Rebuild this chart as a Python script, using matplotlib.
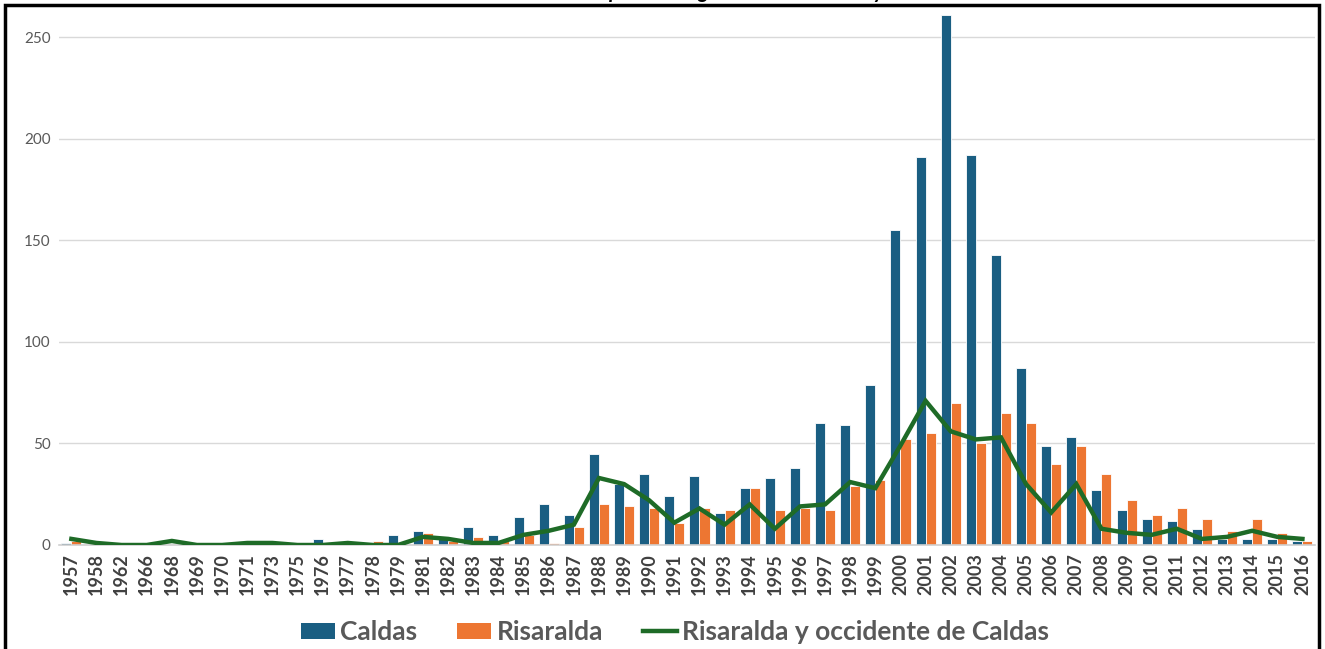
import matplotlib
matplotlib.use("agg")
from matplotlib import pyplot as plt
from matplotlib.patches import Rectangle, Patch
from matplotlib.lines import Line2D
import numpy as np

years = ['1957', '1958', '1962', '1966', '1968', '1969', '1970', '1971', '1973', '1975',
         '1976', '1977', '1978', '1979'] + [str(y) for y in range(1981, 2017)]

caldas = [1, 0, 0, 0, 0, 0, 0, 0, 0, 0,
          3, 0, 0, 5, 7, 3, 9, 5, 14, 20,
          15, 45, 30, 35, 24, 34, 16, 28, 33, 38,
          60, 59, 79, 155, 191, 261, 192, 143, 87, 49,
          53, 27, 17, 13, 12, 8, 3, 3, 3, 2]
risaralda = [2, 0, 0, 0, 0, 0, 0, 0, 0, 0,
             0, 0, 2, 0, 6, 2, 4, 2, 5, 1,
             9, 20, 19, 18, 11, 18, 17, 28, 17, 18,
             17, 29, 32, 52, 55, 70, 50, 65, 60, 40,
             49, 35, 22, 15, 18, 13, 7, 13, 6, 2]
risaralda_occ = [3, 1, 0, 0, 2, 0, 0, 1, 1, 0,
                 0, 1, 0, 0, 4, 3, 1, 1, 5, 7,
                 10, 33, 30, 22, 11, 18, 10, 20, 8, 19,
                 20, 31, 28, 49, 71, 56, 52, 53, 30, 16,
                 30, 8, 6, 5, 8, 3, 4, 7, 4, 3]

BLUE = '#1a5e82'
ORANGE = '#ed7632'
GREEN = '#1e6b27'

plt.rcParams['font.family'] = ['Lato', 'DejaVu Sans']

W, H = 1325, 649
fig = plt.figure(figsize=(W / 100, H / 100), dpi=100)
ax = fig.add_axes([58.8 / W, (H - 545) / H, (1315 - 58.8) / W, (545 - 9) / H])

x = np.arange(len(years))
w = 0.4
ax.bar(x - w / 2, caldas, w, color=BLUE, edgecolor='white', linewidth=0.6, zorder=2)
ax.bar(x + w / 2, risaralda, w, color=ORANGE, edgecolor='white', linewidth=0.6, zorder=2)
ax.plot(x, risaralda_occ, color=GREEN, lw=3.2, zorder=3, solid_joinstyle='miter')

ax.set_xlim(-0.5, len(years) - 0.5)
ax.set_ylim(0, 264)
ax.set_yticks([0, 50, 100, 150, 200, 250])
ax.grid(axis='y', color='#d9d9d9', lw=1, zorder=0)
ax.set_axisbelow(True)
for s in ['left', 'right', 'top']:
    ax.spines[s].set_visible(False)
ax.spines['bottom'].set_color('#d0d0d0')
ax.spines['bottom'].set_linewidth(1.2)
ax.set_xticks(x)
ax.set_xticklabels(years, rotation=90, fontsize=13, fontweight='bold', color='#404040')
ax.tick_params(axis='x', length=0, pad=6)
ax.tick_params(axis='y', length=0, pad=6, labelsize=11, labelcolor='#595959')

handles = [Patch(facecolor=BLUE, label='Caldas'),
           Patch(facecolor=ORANGE, label='Risaralda'),
           Line2D([0], [0], color=GREEN, lw=3.2, label='Risaralda y occidente de Caldas')]
leg = fig.legend(handles=handles, loc='center', bbox_to_anchor=(675 / W, (H - 632) / H),
                 ncol=3, frameon=False, handlelength=1.3, handleheight=0.55,
                 handletextpad=0.2, columnspacing=1.5,
                 prop={'weight': 'bold', 'size': 19})
for t in leg.get_texts():
    t.set_color('#595959')

# title mostly cut by the top of the image
fig.text(0.53, 1.003, 'Número de eventos por año registrados en Caldas y Risaralda',
         ha='center', va='baseline', fontsize=15, fontweight='bold', fontstyle='italic')

# black frame around the chart
fig.patches.append(Rectangle((5 / W, -0.05), (1319 - 5) / W, 1.05 - 5 / H,
                             transform=fig.transFigure, fill=False,
                             edgecolor='black', lw=2.5, zorder=10))

fig.savefig('out.png', dpi=100)
